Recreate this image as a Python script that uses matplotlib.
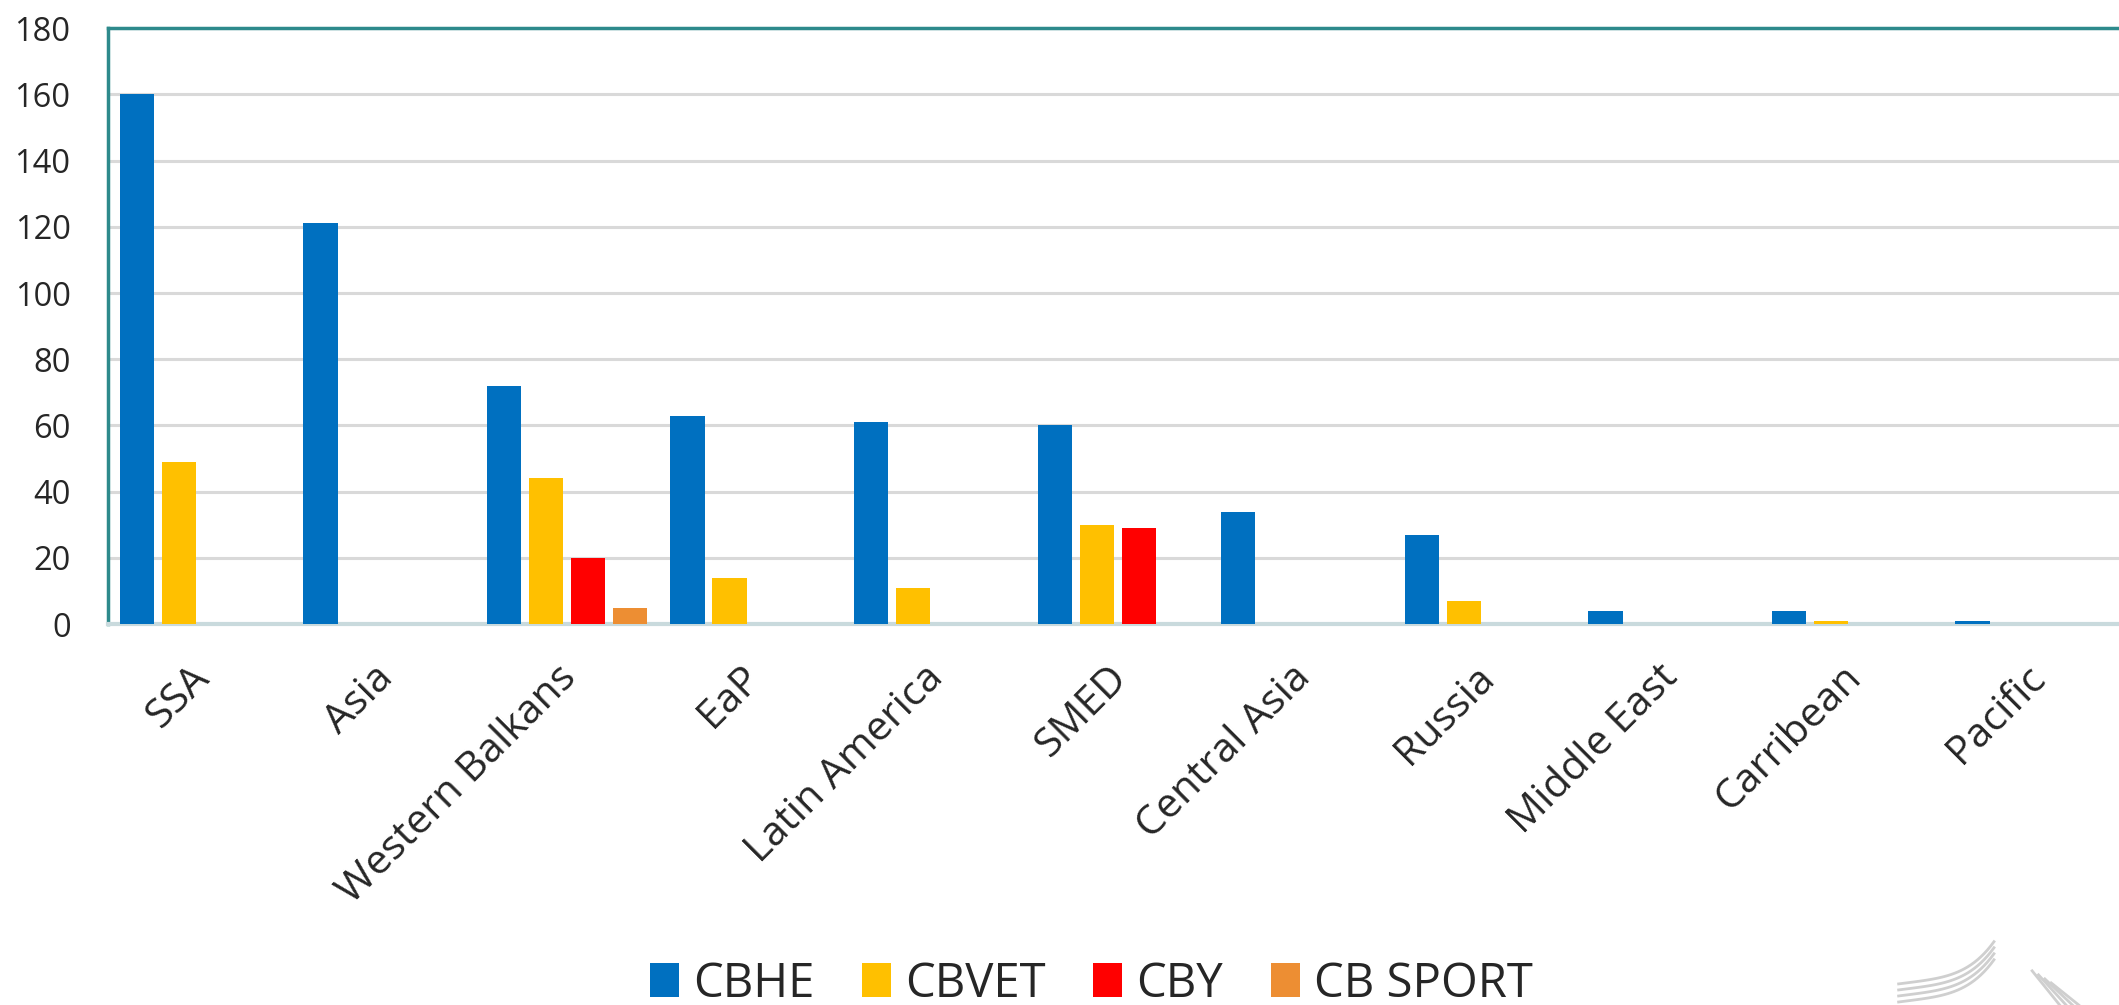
import numpy as np
import matplotlib
matplotlib.use('Agg')
import matplotlib.pyplot as plt
from matplotlib.lines import Line2D
from matplotlib.transforms import ScaledTranslation

plt.rcParams['font.family'] = ['Open Sans', 'DejaVu Sans']

regions = ['SSA', 'Asia', 'Western Balkans', 'EaP', 'Latin America', 'SMED',
           'Central Asia', 'Russia', 'Middle East', 'Carribean', 'Pacific']
cbhe = [160, 121, 72, 63, 61, 60, 34, 27, 4, 4, 1]
cbvet = [49, 0, 44, 14, 11, 30, 0, 7, 0, 1, 0]
cby = [0, 0, 20, 0, 0, 29, 0, 0, 0, 0, 0]
cbsport = [0, 0, 5, 0, 0, 0, 0, 0, 0, 0, 0]

series = [('CBHE', cbhe, '#0070C0'),
          ('CBVET', cbvet, '#FFC000'),
          ('CBY', cby, '#FF0000'),
          ('CB SPORT', cbsport, '#ED8E33')]

fig = plt.figure(figsize=(21.19, 10.05), dpi=100)
ax = fig.add_axes([0.051, 0.379, 0.953, 0.593])

x = np.arange(len(regions))
pitch = 0.229
width = 0.187
for i, (name, vals, col) in enumerate(series):
    ax.bar(x + (i - 1.5) * pitch, vals, width=width, color=col, label=name, zorder=3)

ax.set_xlim(-0.5, len(regions) - 0.5)
ax.set_ylim(0, 180)
ax.set_yticks(range(0, 181, 20))
ax.yaxis.grid(True, color='#d9d9d9', linewidth=2.2, zorder=0)
ax.set_axisbelow(True)

for s in ['top', 'left']:
    ax.spines[s].set_color('#2E8A8C')
    ax.spines[s].set_linewidth(2.5)
ax.spines['right'].set_visible(False)
ax.spines['bottom'].set_color('#C9DADD')
ax.spines['bottom'].set_linewidth(3)

ax.tick_params(axis='y', length=0, pad=27, labelsize=23.5, labelcolor='#262626')
ax.tick_params(axis='x', length=0, pad=10, labelsize=29.5, labelcolor='#262626')
ax.set_xticks(x)
ax.set_xticklabels(regions, rotation=45, ha='right', va='baseline', rotation_mode='anchor')
shift = ScaledTranslation(0.11, -0.41, fig.dpi_scale_trans)
for lab in ax.get_xticklabels():
    lab.set_transform(lab.get_transform() + shift)

leg = fig.legend(loc='center', bbox_to_anchor=(0.515, 0.021), ncol=4, frameon=False,
                 fontsize=34, handlelength=0.62, handleheight=0.72,
                 handletextpad=0.3, columnspacing=1.0, labelcolor='#262626')

# faint logo fragments in the lower right corner
for k in range(4):
    dy = k * 0.006
    xs = np.linspace(0.896, 0.941, 30)
    t = (xs - 0.896) / 0.045
    ys = 0.003 + dy + 0.012 * t + 0.03 * t ** 4
    fig.add_artist(Line2D(xs, ys, color='#cfcfcf', lw=2, transform=fig.transFigure))
    fig.add_artist(Line2D([0.959 + k * 0.003, 0.972 + k * 0.003],
                          [0.034 - k * 0.004, 0.0], color='#cfcfcf', lw=2,
                          transform=fig.transFigure))

fig.savefig('out.png', dpi=100)
